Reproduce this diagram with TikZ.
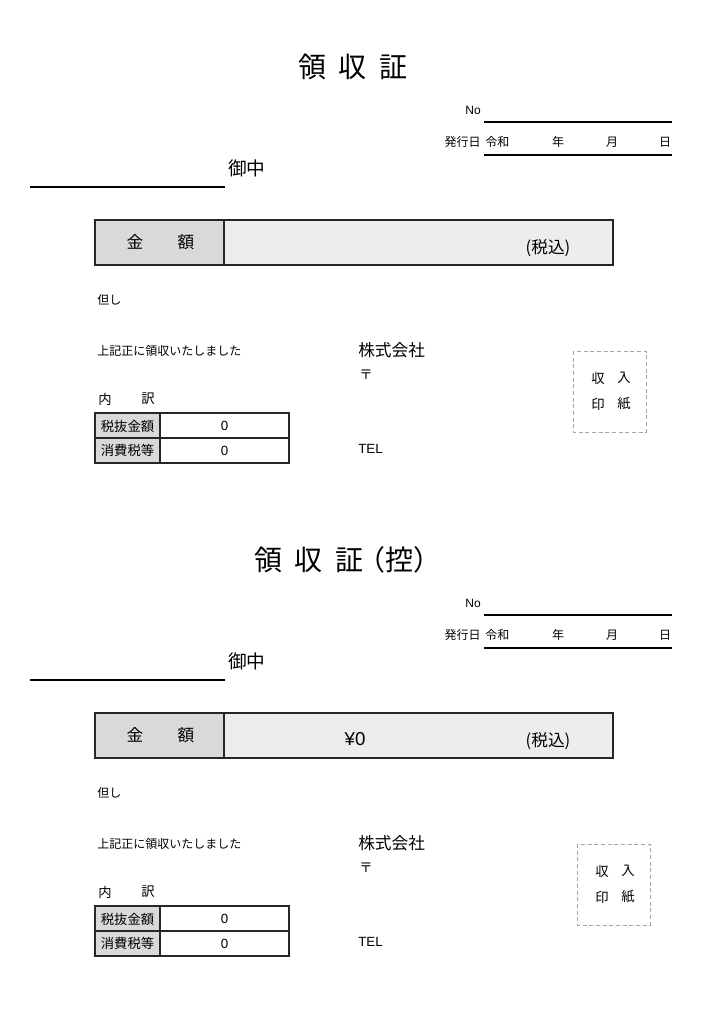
\documentclass[tikz,border=0pt]{standalone}
\usepackage{fontspec}
\setmainfont{Noto Sans CJK JP}
\newfontfamily\latinfont{Liberation Sans}
\usepackage{xcolor}
\definecolor{cellgray}{HTML}{D9D9D9}
\definecolor{boxgray}{HTML}{EDEDED}
\definecolor{stampgray}{HTML}{A6A6A6}

\begin{document}
\begin{tikzpicture}[x=.75pt,y=-.75pt,
    lbl/.style={inner sep=0pt},
    ttlfont/.style={lbl,font=\fontsize{21}{24}\selectfont},
    bigfont/.style={lbl,font=\fontsize{14}{16}\selectfont},
    midfont/.style={lbl,font=\fontsize{12.5}{14}\selectfont},
    cellfont/.style={lbl,font=\fontsize{10}{12}\selectfont},
    smallfont/.style={lbl,font=\fontsize{9}{11}\selectfont},
    latfont/.style={lbl,font=\latinfont\fontsize{10}{12}\selectfont},
    uline/.style={line width=1.1pt},
    frame/.style={line width=1.1pt,draw=black!85}]
    \useasboundingbox[fill=white] (0,0) rectangle (724,1024);
    \foreach \k/\off/\tx/\ttl/\amt/\sx in
      {a/0/298/{領\kern.45em収\kern.45em証}/{}/0,
       b/493/254/{領\kern.45em収\kern.45em証\kern-.2em\mbox{（}\mbox{控}\mbox{）}}/{¥0}/4}{
    \begin{scope}[shift={(0,\off)}]
    % heading
    \node[ttlfont,anchor=west] (title\k) at (\tx,67) {\ttl};
    \node[smallfont,anchor=east] (no\k) at (481,110) {\latinfont No};
    \draw[uline] (484,122) -- (672,122);
    \node[smallfont,anchor=east] (hakko\k) at (481,142) {発行日};
    \node[smallfont,anchor=west] (reiwa\k) at (485,142) {令和};
    \node[smallfont] (nen\k) at (558,142) {年};
    \node[smallfont] (tsuki\k) at (612,142) {月};
    \node[smallfont] (hi\k) at (665,142) {日};
    \draw[uline] (484,155) -- (672,155);
    \node[bigfont,anchor=west] (onchu\k) at (228,168) {御中};
    \draw[uline] (30,187) -- (225,187);
    % amount
    \filldraw[frame,fill=boxgray] (95,220) rectangle (613,265);
    \filldraw[frame,fill=cellgray] (95,220) rectangle (224,265);
    \node[midfont] (kin\k) at (135,242) {金};
    \node[midfont] (gaku\k) at (186,242) {額};
    \node[lbl,font=\latinfont\fontsize{14}{16}\selectfont] (amt\k) at (355,246) {\amt};
    \node[midfont] (zeikomi\k) at (548,248) {(税込)};
    % body
    \node[smallfont,anchor=west] (tadashi\k) at (97,300) {但し};
    \node[smallfont,anchor=west] (ryoshu\k) at (97,351) {上記正に領収いたしました};
    \node[midfont,anchor=west] (kaisha\k) at (358,350) {株式会社};
    \node[cellfont,anchor=west] (yubin\k) at (359,375) {〒};
    \node[latfont,anchor=west] (tel\k) at (358,449) {TEL};
    \node[cellfont] (uchi\k) at (105,399) {内};
    \node[cellfont] (wake\k) at (148,399) {訳};
    % breakdown
    \filldraw[frame,fill=cellgray] (95,413) rectangle (160,463);
    \draw[frame] (160,413) rectangle (289,463) (95,438) -- (289,438);
    \node[cellfont] (zeinuki\k) at (127.5,426) {税抜金額};
    \node[cellfont] (shohi\k) at (127.5,450.5) {消費税等};
    \node[latfont] (val1\k) at (224.5,426) {0};
    \node[latfont] (val2\k) at (224.5,450.5) {0};
    % stamp
    \draw[stampgray,densely dashed,line width=.6pt] (573+\sx,351) rectangle (646+\sx,432);
    \node[cellfont] (shu\k) at (598+\sx,378) {収};
    \node[cellfont] (nyu\k) at (624+\sx,378) {入};
    \node[cellfont] (in\k) at (598+\sx,404) {印};
    \node[cellfont] (shi\k) at (624+\sx,404) {紙};
    \end{scope}
    }
\end{tikzpicture}
\end{document}
